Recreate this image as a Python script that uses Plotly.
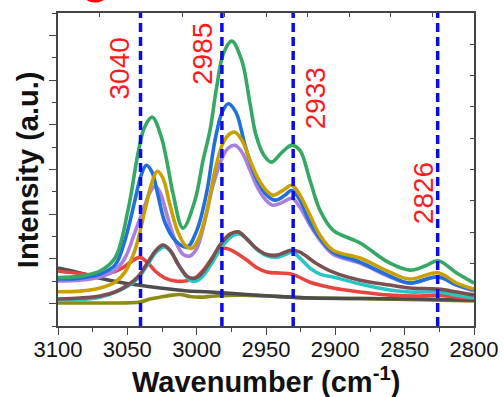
import plotly.graph_objects as go

# ---------------- data ----------------
green_x = [3100, 3084.1, 3069.7, 3058.9, 3049.5, 3042.3, 3037.5, 3032.0, 3025.5, 3020.7, 3017.1, 3009.9,
           3001.2, 2995.4, 2990.4, 2985.6, 2980.8, 2974.7, 2967.5, 2961.5, 2957.2, 2951.4, 2945.9, 2938.5,
           2931.5, 2925.5, 2918.3, 2911.1, 2901.7, 2882.2, 2860.6, 2846.2, 2835.3, 2825.9, 2812.5, 2800]
green_y = [2.17, 2.23, 2.46, 3.04, 5.18, 7.72, 8.90, 9.34, 8.45, 7.11, 5.94, 4.38,
           5.63, 7.41, 8.75, 10.68, 12.17, 12.74, 11.88, 9.94, 8.53, 7.63, 7.33, 7.77,
           8.08, 7.86, 6.52, 5.18, 4.29, 3.71, 2.81, 2.50, 2.68, 2.92, 2.37, 1.92]

blue_x = [3100, 3084.1, 3069.7, 3058.9, 3051.7, 3044.5, 3040.1, 3036.3, 3032.2, 3027.9, 3022.9, 3015.6,
          3007.0, 2999.8, 2992.5, 2986.8, 2981.7, 2977.2, 2971.6, 2965.1, 2957.9, 2950.7, 2943.5, 2936.3,
          2931.5, 2925.5, 2918.3, 2911.1, 2901.7, 2882.2, 2860.6, 2846.2, 2825.9, 2812.5, 2800]
blue_y = [2.10, 2.14, 2.32, 2.72, 3.84, 5.63, 6.74, 7.19, 6.88, 5.85, 4.64, 3.84,
          3.53, 4.29, 6.07, 8.30, 9.55, 9.94, 9.55, 8.08, 6.74, 5.94, 5.63, 5.85,
          6.07, 5.63, 4.64, 3.93, 3.30, 2.86, 2.23, 1.92, 2.19, 1.83, 1.61]

gold_x = [3100, 3084.1, 3069.7, 3058.9, 3051.7, 3044.5, 3037.3, 3032.9, 3028.4, 3024.3, 3019.2, 3013.5,
          3007.7, 3003.4, 2999.0, 2992.5, 2986.8, 2981.7, 2977.4, 2972.4, 2967.3, 2961.5, 2955.8, 2950.0,
          2945.0, 2937.8, 2931.3, 2925.5, 2918.3, 2911.1, 2901.7, 2882.2, 2860.6, 2846.2, 2825.9, 2812.5, 2800]
gold_y = [1.53, 1.56, 1.70, 1.96, 2.41, 3.39, 5.18, 6.29, 6.92, 6.61, 5.40, 4.20,
          3.57, 3.48, 3.84, 5.18, 6.96, 8.08, 8.53, 8.67, 8.30, 7.41, 6.61, 6.07,
          5.85, 6.07, 6.29, 5.85, 4.96, 4.06, 3.39, 3.04, 2.41, 2.10, 2.38, 1.92, 1.65]

violet_x = [3100, 3084.1, 3069.7, 3058.9, 3051.7, 3044.5, 3037.3, 3033.7, 3029.8, 3026.4, 3021.4, 3015.6,
            3009.9, 3004.8, 2999.8, 2994.0, 2988.2, 2981.7, 2977.4, 2972.4, 2967.3, 2961.5, 2955.8, 2950.0,
            2945.0, 2937.8, 2931.3, 2925.5, 2918.3, 2911.1, 2901.7, 2882.2, 2860.6, 2846.2, 2825.9, 2812.5, 2800]
violet_y = [2.01, 2.05, 2.19, 2.50, 3.04, 4.20, 5.40, 5.98, 6.25, 5.98, 4.96, 3.84,
            3.21, 3.13, 3.48, 4.73, 6.29, 7.50, 7.95, 8.08, 7.77, 6.96, 6.16, 5.63,
            5.40, 5.54, 5.71, 5.31, 4.51, 3.84, 3.21, 2.81, 2.19, 1.92, 2.20, 1.83, 1.56]

brown_x = [3100, 3084.1, 3069.7, 3058.9, 3049.5, 3042.3, 3035.1, 3029.3, 3024.3, 3019.2, 3013.5, 3007.0,
           3002.6, 2997.6, 2990.4, 2983.2, 2976.0, 2970.0, 2964.4, 2957.2, 2950.0, 2942.3, 2936.3, 2931.5,
           2925.5, 2914.0, 2901.7, 2882.2, 2860.6, 2846.2, 2825.9, 2812.5, 2800]
brown_y = [1.21, 1.25, 1.34, 1.52, 1.83, 2.20, 2.86, 3.39, 3.62, 3.39, 2.77, 2.23,
           2.13, 2.28, 2.86, 3.62, 4.11, 4.21, 3.93, 3.48, 3.21, 3.17, 3.30, 3.39,
           3.30, 2.81, 2.41, 2.05, 1.83, 1.70, 1.65, 1.52, 1.38]

cyan_x = [3100, 3069.7, 3049.5, 3042.3, 3035.1, 3029.3, 3022.9, 3017.9, 3012.1, 3004.9, 3000.6, 2995.6,
          2989.1, 2981.9, 2974.7, 2968.9, 2963.1, 2955.9, 2948.7, 2942.2, 2935.7, 2931.4, 2925.5, 2918.3,
          2911.1, 2901.7, 2882.2, 2860.6, 2846.2, 2825.9, 2812.5, 2800]
cyan_y = [1.16, 1.29, 1.79, 2.14, 2.77, 3.30, 3.53, 3.26, 2.63, 2.05, 2.01, 2.23,
          2.81, 3.53, 4.02, 4.11, 3.84, 3.39, 3.13, 3.08, 3.21, 3.30, 3.04, 2.59,
          2.32, 2.19, 1.88, 1.61, 1.52, 1.52, 1.38, 1.25]

red_x = [3100, 3087.7, 3073.3, 3062.5, 3053.8, 3046.6, 3041.1, 3035.8, 3030.0, 3022.8, 3015.6, 3008.4,
         3001.2, 2994.0, 2986.8, 2982.5, 2978.3, 2972.4, 2963.9, 2957.2, 2949.5, 2939.9, 2932.7, 2927.6,
         2918.3, 2901.7, 2882.2, 2860.6, 2839.0, 2825.9, 2812.5, 2800]
red_y = [2.46, 2.37, 2.28, 2.37, 2.59, 2.90, 3.07, 2.86, 2.46, 2.14, 2.01, 2.01,
         2.14, 2.59, 3.21, 3.44, 3.47, 3.30, 2.95, 2.63, 2.42, 2.37, 2.34, 2.23,
         1.96, 1.70, 1.52, 1.38, 1.34, 1.38, 1.29, 1.25]

gray_x = [3100, 3084.1, 3069.7, 3055.3, 3042.3, 3026.4, 3008.4, 2990.4, 2968.8, 2947.1, 2918.3, 2882.2, 2839.0, 2800]
gray_y = [2.59, 2.37, 2.14, 1.96, 1.83, 1.70, 1.58, 1.52, 1.43, 1.34, 1.25, 1.23, 1.21, 1.16]

olive_x = [3100, 3069.7, 3040.9, 3033.7, 3026.4, 3017.8, 3012.0, 3004.8, 2997.6, 2986.8, 2968.8, 2947.1, 2925.5, 2882.2, 2839.0, 2800]
olive_y = [1.03, 1.03, 1.07, 1.21, 1.29, 1.38, 1.41, 1.32, 1.29, 1.34, 1.38, 1.34, 1.27, 1.23, 1.18, 1.12]

marker_lines = [3040.5, 2981.8, 2930.4, 2826.2]
marker_labels = ["3040", "2985", "2933", "2826"]
label_x = [3056.0, 2995.8, 2914.7, 2836.8]
label_y = [11.52, 12.19, 10.18, 5.94]

series = [
    ("olive", olive_x, olive_y, "#8c8c14"),
    ("gray", gray_x, gray_y, "#4d4d4d"),
    ("red", red_x, red_y, "#e8433f"),
    ("cyan", cyan_x, cyan_y, "#26c6c6"),
    ("brown", brown_x, brown_y, "#7a5050"),
    ("violet", violet_x, violet_y, "#a97fe2"),
    ("blue", blue_x, blue_y, "#1f6fdc"),
    ("gold", gold_x, gold_y, "#c9a000"),
    ("green", green_x, green_y, "#35a863"),
]

FONT = "Liberation Sans, Arial, sans-serif"
fig = go.Figure()
for name, xs, ys, col in series:
    fig.add_trace(go.Scatter(x=xs, y=ys, mode="lines", name=name,
                             line=dict(color=col, width=3.6, shape="spline", smoothing=1.0),
                             showlegend=False, hoverinfo="skip"))

# invisible trace for the secondary (top/right) tick axes
fig.add_trace(go.Scatter(x=[3100], y=[0], xaxis="x2", yaxis="y2", mode="markers",
                         marker=dict(opacity=0), showlegend=False, hoverinfo="skip"))

for xv in marker_lines:
    fig.add_shape(type="line", x0=xv, x1=xv, y0=0, y1=1, xref="x", yref="paper",
                  line=dict(color="#0a0af0", width=3.5, dash="9px,5px"), layer="above")

for t, xv, yv in zip(marker_labels, label_x, label_y):
    fig.add_annotation(x=xv, y=yv, xref="x", yref="y", text=t, textangle=-90, showarrow=False,
                       font=dict(family=FONT, size=28, color="#ff1a1a"))

AX = "#444444"
fig.update_layout(
    width=504, height=397,
    margin=dict(l=58, r=30, t=13, b=71, autoexpand=False),
    paper_bgcolor="white", plot_bgcolor="white",
    font=dict(family=FONT, color="#111111"),
    xaxis=dict(range=[3100, 2800], tick0=3100, dtick=50, ticks="outside", ticklen=7, tickwidth=1.3,
               tickcolor=AX, showline=True, linecolor=AX, linewidth=1.5, mirror=True, automargin=False,
               showgrid=False, zeroline=False, tickfont=dict(size=22, color="#111111"),
               ticklabelstandoff=-4,
               minor=dict(dtick=25, ticks="outside", ticklen=4, tickcolor=AX, tickwidth=1.3, showgrid=False)),
    yaxis=dict(range=[0, 14], tick0=1, dtick=2, ticks="outside", ticklen=7, tickwidth=1.3,
               tickcolor=AX, showline=True, linecolor=AX, linewidth=1.5, mirror=True, automargin=False,
               showgrid=False, zeroline=False, showticklabels=False,
               minor=dict(dtick=1, ticks="outside", ticklen=4, tickcolor=AX, tickwidth=1.3, showgrid=False)),
    xaxis2=dict(overlaying="x", side="top", anchor="y", range=[3100, 2800], tick0=3100, dtick=30,
                ticks="inside", ticklen=4, tickwidth=1.3, tickcolor=AX, showticklabels=False,
                showgrid=False, zeroline=False, showline=False, automargin=False),
    yaxis2=dict(overlaying="y", side="right", anchor="x", range=[0, 10], dtick=1,
                ticks="inside", ticklen=4, tickwidth=1.3, tickcolor=AX, showticklabels=False,
                showgrid=False, zeroline=False, showline=False, automargin=False),
)

fig.add_annotation(x=0.5, y=-0.172, xref="paper", yref="paper", yanchor="middle",
                   text="<b>Wavenumber (cm<sup>-1</sup>)</b>", showarrow=False,
                   font=dict(family=FONT, size=29, color="#111111"))
fig.add_annotation(x=-0.073, y=0.5, xref="paper", yref="paper", xanchor="center",
                   text="<b>Intensity (a.u.)</b>", textangle=-90, showarrow=False,
                   font=dict(family=FONT, size=29, color="#111111"))
fig.add_annotation(x=0.0445, y=0.989, xref="paper", yref="paper", yanchor="bottom",
                   text="<b>c</b>", showarrow=False,
                   font=dict(family=FONT, size=56, color="#ff0000"))

fig.write_html("out.html")
